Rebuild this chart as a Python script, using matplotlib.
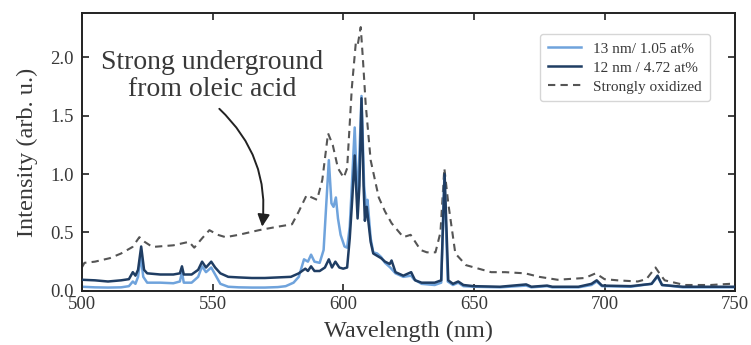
import matplotlib
matplotlib.use("Agg")
import matplotlib.pyplot as plt

plt.rcParams['font.family'] = ['Liberation Serif', 'DejaVu Serif']

# ---- data ----
wl_light = [500, 505, 510, 515, 518, 519.5, 520.5, 521.5, 522.5, 523.5, 525, 530, 535, 537.5, 538.3, 539,
            542, 544.5, 546, 547.5, 549.5, 551, 553, 556, 560, 565, 570, 575, 578, 581, 583, 585, 586.5,
            587.7, 589, 591, 592.5, 594.5, 595.5, 596.3, 597.2, 598, 599, 600.5, 601.5, 602.5, 603.3,
            604.4, 605.5, 607, 608, 608.7, 609.3, 610.5, 611.5, 613, 614.5, 616, 618, 620, 623, 626, 627,
            630, 635, 637.5, 638.7, 640, 642, 644, 646, 650, 660, 670, 672, 678, 680, 690, 695, 697, 699,
            710, 718, 720.3, 722, 730, 740, 750]
int_light = [0.035, 0.03, 0.028, 0.03, 0.04, 0.08, 0.06, 0.12, 0.30, 0.12, 0.07, 0.07, 0.065, 0.08, 0.16,
             0.07, 0.07, 0.12, 0.21, 0.16, 0.20, 0.14, 0.06, 0.035, 0.03, 0.028, 0.028, 0.032, 0.04, 0.07,
             0.12, 0.27, 0.25, 0.31, 0.25, 0.24, 0.35, 1.12, 0.75, 0.72, 0.80, 0.62, 0.48, 0.38, 0.37, 0.55,
             0.90, 1.40, 0.72, 1.67, 0.90, 0.72, 0.78, 0.45, 0.33, 0.32, 0.29, 0.24, 0.20, 0.15, 0.12, 0.13,
             0.10, 0.06, 0.05, 0.07, 0.97, 0.08, 0.05, 0.07, 0.04, 0.035, 0.03, 0.045, 0.03, 0.04, 0.03,
             0.03, 0.05, 0.08, 0.04, 0.035, 0.06, 0.12, 0.05, 0.03, 0.03, 0.03]

wl_dark = [500, 505, 510, 515, 518, 519.5, 520.5, 521.5, 522.7, 523.8, 525, 530, 535, 537.5, 538.3, 539,
           542, 544.5, 546, 547.5, 549.5, 551, 553, 556, 560, 565, 570, 575, 580, 583, 585.5, 586.5, 587.7,
           589, 591, 593, 594.5, 595.7, 597, 598.5, 600, 601.5, 602.5, 603.5, 604.4, 605.5, 606.2, 607,
           607.8, 608.3, 609, 610.5, 611.5, 613, 614.5, 616, 617.8, 618.5, 620, 623, 626, 627.5, 630, 635,
           637.5, 638.8, 640.2, 642, 644, 646, 650, 660, 670, 672, 678, 680, 690, 695, 697, 699, 710, 718,
           720.3, 722, 730, 740, 750]
int_dark = [0.095, 0.09, 0.08, 0.09, 0.10, 0.16, 0.13, 0.18, 0.38, 0.18, 0.15, 0.14, 0.14, 0.15, 0.21, 0.14,
            0.14, 0.18, 0.25, 0.20, 0.25, 0.20, 0.15, 0.12, 0.115, 0.11, 0.11, 0.115, 0.12, 0.15, 0.19, 0.17,
            0.21, 0.17, 0.17, 0.20, 0.27, 0.20, 0.25, 0.20, 0.19, 0.20, 0.45, 0.80, 1.16, 0.62, 0.90, 1.65,
            0.90, 0.60, 0.72, 0.42, 0.32, 0.30, 0.28, 0.25, 0.23, 0.26, 0.16, 0.13, 0.16, 0.09, 0.07, 0.07,
            0.09, 1.00, 0.09, 0.06, 0.08, 0.05, 0.04, 0.035, 0.055, 0.035, 0.045, 0.035, 0.035, 0.06, 0.09,
            0.045, 0.04, 0.06, 0.13, 0.05, 0.035, 0.035, 0.035]

wl_ox = [500, 501, 505, 510.7, 515, 519.4, 522, 524, 527, 535, 541, 543, 546, 548.8, 552, 555, 560, 567.8,
         575, 580.4, 583, 586, 588, 590, 592, 594.2, 596, 598, 600.2, 601.5, 603.3, 604.8, 605.5, 606.7,
         607.5, 608.6, 610.5, 613.6, 616, 618.5, 623, 625.8, 629.6, 632, 635.3, 637.2, 638.7, 640.2, 642.9,
         647, 656.6, 662, 669.6, 675, 682, 692.4, 696.6, 700, 705, 712.7, 716, 719.5, 721, 723, 730.6,
         740.5, 748, 750]
int_ox = [0.20, 0.24, 0.25, 0.28, 0.32, 0.376, 0.46, 0.42, 0.376, 0.39, 0.42, 0.37, 0.45, 0.52, 0.48, 0.46,
          0.48, 0.52, 0.55, 0.57, 0.68, 0.82, 0.80, 0.78, 0.95, 1.35, 1.25, 1.05, 0.97, 1.05, 1.74, 2.12,
          2.10, 2.26, 2.00, 1.60, 1.12, 0.80, 0.68, 0.58, 0.46, 0.48, 0.35, 0.33, 0.33, 0.50, 1.05, 0.75,
          0.32, 0.22, 0.16, 0.16, 0.15, 0.12, 0.095, 0.11, 0.15, 0.10, 0.09, 0.08, 0.10, 0.20, 0.15, 0.09,
          0.05, 0.05, 0.06, 0.06]

labels = ["13 nm/ 1.05 at%", "12 nm / 4.72 at%", "Strongly oxidized"]
annotation = "Strong underground\nfrom oleic acid"

text_color = '#383838'

fig = plt.figure(figsize=(7.51, 3.45), dpi=100)
ax = fig.add_axes([0.109, 0.157, 0.870, 0.805])

ax.plot(wl_ox, int_ox, color='#555555', lw=1.5, ls=(0, (3.5, 2.5)), zorder=1, label=labels[2])
ax.plot(wl_light, int_light, color='#6fa3dc', lw=1.8, zorder=2, label=labels[0])
ax.plot(wl_dark, int_dark, color='#1f3d63', lw=1.8, zorder=3, label=labels[1])

ax.set_xlim(500, 750)
ax.set_ylim(0, 2.38)
ax.set_xticks([500, 550, 600, 650, 700, 750])
ax.set_yticks([0.0, 0.5, 1.0, 1.5, 2.0])
ax.set_yticklabels(["0.0", "0.5", "1.0", "1.5", "2.0"])
ax.tick_params(direction='in', top=True, right=True, length=5, width=1.2,
               labelsize=13.5, colors='#222222', labelcolor=text_color)
ax.tick_params(axis='x', pad=4)
ax.tick_params(axis='y', pad=6)
for s in ax.spines.values():
    s.set_linewidth(1.4)
    s.set_color('#222222')

ax.set_xlabel("Wavelength (nm)", fontsize=17.5, color=text_color, labelpad=5)
ax.set_ylabel("Intensity (arb. u.)", fontsize=17.5, color=text_color, labelpad=9)

handles, labs = ax.get_legend_handles_labels()
order = [1, 2, 0]
leg = ax.legend([handles[i] for i in order], [labs[i] for i in order], loc='upper right',
                bbox_to_anchor=(0.961, 0.924), borderaxespad=0, fontsize=11, frameon=True,
                handlelength=2.2, borderpad=0.5, labelspacing=0.35)
leg.get_frame().set_edgecolor('#cccccc')
for t in leg.get_texts():
    t.set_color(text_color)

ax.text(549.8, 1.84, annotation, ha='center', va='center', fontsize=20, color=text_color,
        linespacing=1.1)
ax.annotate('', xy=(569, 0.55), xytext=(552.6, 1.56), textcoords='data',
            arrowprops=dict(arrowstyle='-|>', color='#222222', lw=1.4,
                            connectionstyle='arc3,rad=-0.25', shrinkA=0, shrinkB=0,
                            mutation_scale=18))

fig.savefig("out.png", dpi=100)
